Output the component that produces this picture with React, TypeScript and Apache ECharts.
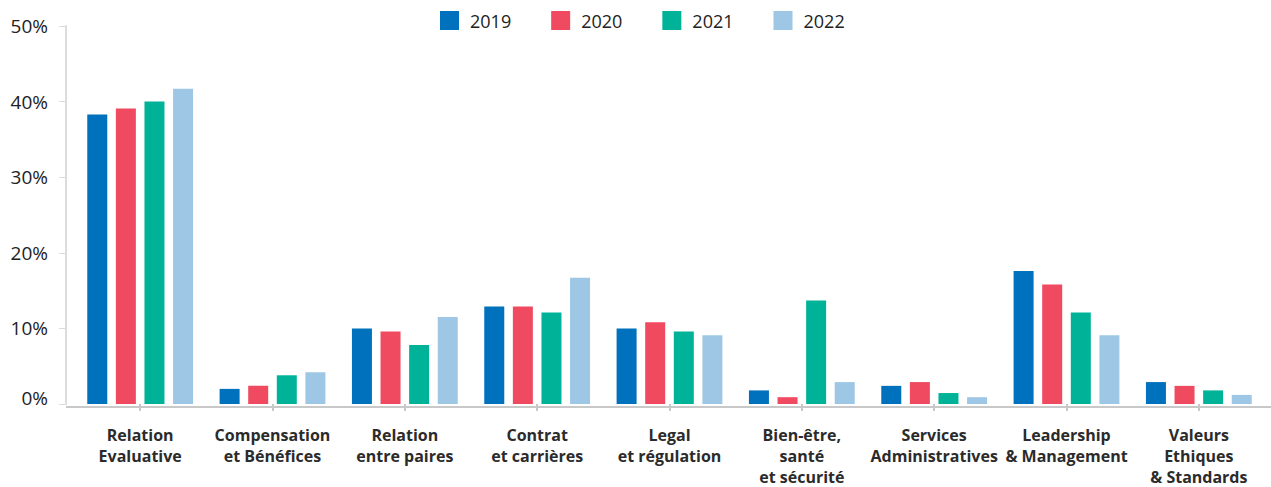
import React, { useEffect, useRef } from "react";
import * as echarts from "echarts";

const categories = [
  "Relation\nEvaluative",
  "Compensation\net Bénéfices",
  "Relation\nentre paires",
  "Contrat\net carrières",
  "Legal\net régulation",
  "Bien-être,\nsanté\net sécurité",
  "Services\nAdministratives",
  "Leadership\n& Management",
  "Valeurs\nEthiques\n& Standards",
];
const years = ["2019", "2020", "2021", "2022"];
const values2019 = [38.3, 2.0, 10.0, 12.9, 10.0, 1.8, 2.4, 17.6, 2.9];
const values2020 = [39.1, 2.4, 9.6, 12.9, 10.8, 0.9, 2.9, 15.8, 2.4];
const values2021 = [40.0, 3.8, 7.8, 12.1, 9.6, 13.7, 1.45, 12.1, 1.8];
const values2022 = [41.7, 4.2, 11.5, 16.7, 9.1, 2.9, 0.9, 9.1, 1.2];
const seriesValues = [values2019, values2020, values2021, values2022];
const colors = ["#0071BC", "#EF4A60", "#00B398", "#9DC7E5"];
const yTicks = { min: 0, max: 50, interval: 10 };

const FONT = "'Open Sans', sans-serif";

export default function App() {
  const ref = useRef<HTMLDivElement>(null);
  useEffect(() => {
    if (!ref.current) return;
    const chart = echarts.init(ref.current, undefined, { renderer: "svg" });
    chart.setOption({
      animation: false,
      textStyle: { fontFamily: FONT },
      legend: {
        left: 440,
        top: 11,
        padding: 0,
        itemWidth: 19,
        itemHeight: 19,
        itemGap: 40,
        icon: "rect",
        textStyle: { fontSize: 18, color: "#222", fontFamily: FONT, padding: [0, 0, 0, 6] },
        data: years,
      },
      grid: { left: 74, right: 6, top: 26, bottom: 80, containLabel: false },
      xAxis: {
        type: "category",
        data: categories,
        axisLine: { show: false },
        axisTick: { show: true, alignWithLabel: true, length: 7, lineStyle: { color: "#c8c8c8", width: 2 } },
        axisLabel: {
          interval: 0,
          margin: 20,
          fontSize: 16,
          fontWeight: "bold",
          color: "#2b2b2b",
          lineHeight: 21,
          fontFamily: FONT,
        },
      },
      yAxis: {
        type: "value",
        min: yTicks.min,
        max: yTicks.max,
        interval: yTicks.interval,
        offset: 8,
        axisLine: { show: true, lineStyle: { color: "#dcdcdc", width: 2 } },
        axisTick: { show: true, length: 7, lineStyle: { color: "#dcdcdc", width: 1 } },
        splitLine: { show: false },
        axisLabel: {
          margin: 18,
          fontSize: 19,
          color: "#222",
          fontFamily: FONT,
          formatter: (v: number) => (v === 0 ? "{z|0%}" : v + "%"),
          rich: { z: { fontSize: 19, color: "#222", fontFamily: FONT, padding: [0, 0, 12, 0] } },
        },
      },
      graphic: [
        {
          type: "line",
          shape: { x1: 66, y1: 407, x2: 1271, y2: 407 },
          style: { stroke: "#c8c8c8", lineWidth: 2 },
          z: 10,
        },
      ],
      series: years.map((y, i) => ({
        name: y,
        type: "bar",
        data: seriesValues[i],
        barWidth: 20,
        barGap: "43%",
        itemStyle: { color: colors[i] },
      })),
    });
    return () => chart.dispose();
  }, []);
  return (
    <div
      ref={ref}
      style={{ position: "absolute", left: 0, top: 0, width: 1271, height: 487 }}
    />
  );
}
